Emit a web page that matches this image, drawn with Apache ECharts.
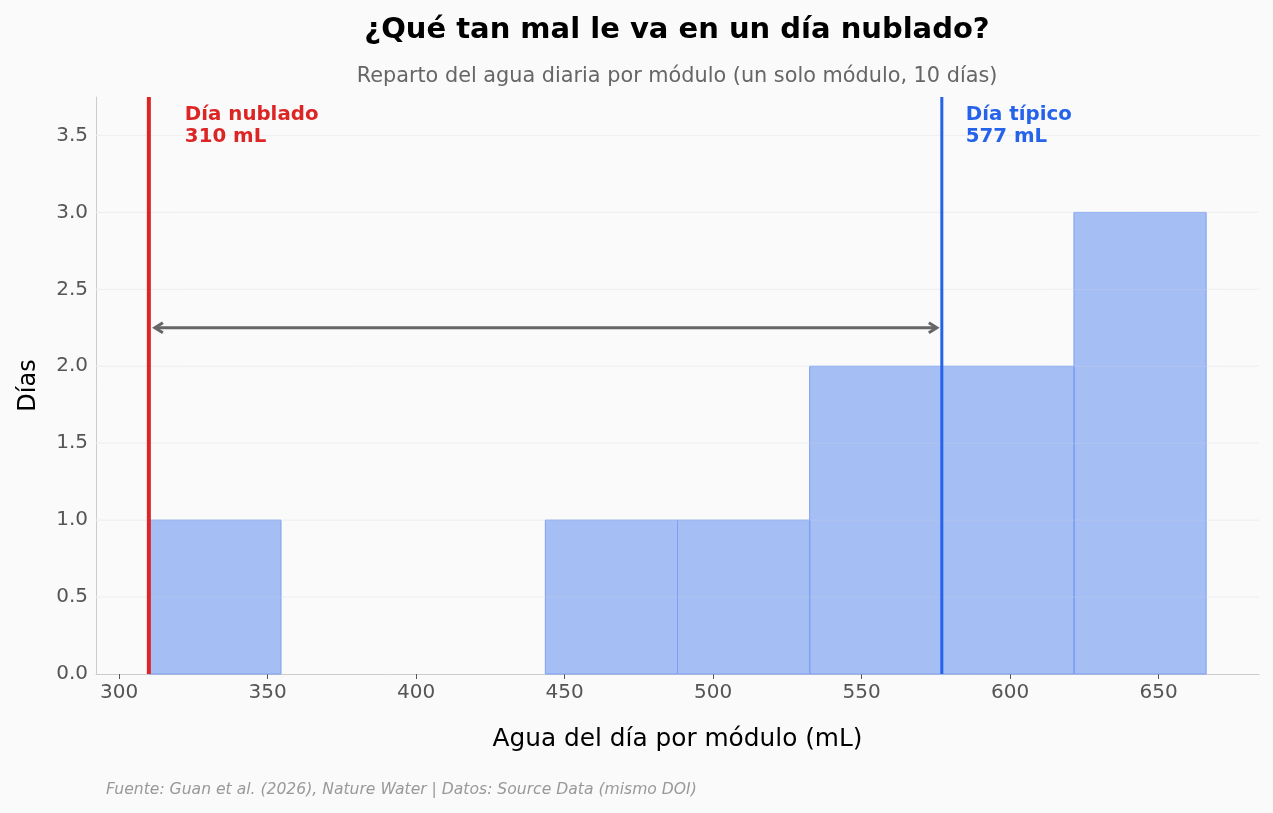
<!DOCTYPE html>
<html>
<head>
<meta charset="utf-8">
<script src="https://cdn.jsdelivr.net/npm/echarts@6/dist/echarts.min.js"></script>
<style>
html,body{margin:0;padding:0;background:#fafafa;}
#c{width:1273px;height:813px;}
</style>
</head>
<body>
<div id="c"></div>
<script>
// ---- data ----
const binEdges = [310, 354.5, 399, 443.5, 488, 532.5, 577, 621.5, 666];
const binCounts = [1, 0, 0, 1, 1, 2, 2, 3];
const cloudyDay = 310;
const typicalDay = 577;
const xTicks = [300, 350, 400, 450, 500, 550, 600, 650];
const yTicks = [0, 0.5, 1, 1.5, 2, 2.5, 3, 3.5];
const arrowY = 2.25;
const titleText = '¿Qué tan mal le va en un día nublado?';
const subtitleText = 'Reparto del agua diaria por módulo (un solo módulo, 10 días)';
const sourceText = 'Fuente: Guan et al. (2026), Nature Water | Datos: Source Data (mismo DOI)';

const FONT = '"DejaVu Sans", sans-serif';
const blue = '#2563eb';
const red = '#dc2626';

const bins = binCounts.map((c, i) => [binEdges[i], binEdges[i + 1], c]);

const chart = echarts.init(document.getElementById('c'), null, {renderer: 'canvas'});

chart.setOption({
  backgroundColor: '#fafafa',
  animation: false,
  title: [
    {text: titleText, left: 672, textAlign: 'center', top: 11,
     textStyle: {fontFamily: FONT, fontSize: 29, fontWeight: 'bold', color: '#000'}},
    {text: subtitleText, left: 672, textAlign: 'center', top: 61,
     textStyle: {fontFamily: FONT, fontSize: 20.8, fontWeight: 'normal', color: '#666'}},
    {text: sourceText, left: 101, top: 777,
     textStyle: {fontFamily: FONT, fontSize: 15.6, fontStyle: 'italic', fontWeight: 'normal', color: '#999'}}
  ],
  grid: {left: 96, right: 14, top: 97, bottom: 139},
  xAxis: {
    type: 'value', min: 292.2, max: 683.8,
    name: 'Agua del día por módulo (mL)', nameLocation: 'middle', nameGap: 53,
    nameTextStyle: {fontFamily: FONT, fontSize: 24.8, color: '#000'},
    axisLine: {show: true, lineStyle: {color: '#cccccc', width: 1}},
    axisTick: {show: true, customValues: xTicks, length: 5, lineStyle: {color: '#555'}},
    axisLabel: {customValues: xTicks, fontFamily: FONT, fontSize: 20, color: '#555', margin: 9},
    splitLine: {show: false}
  },
  yAxis: {
    type: 'value', min: 0, max: 3.75,
    name: 'Días', nameLocation: 'middle', nameGap: 55, nameRotate: 90,
    nameTextStyle: {fontFamily: FONT, fontSize: 24, color: '#000'},
    axisLine: {show: true, lineStyle: {color: '#cccccc', width: 1}},
    axisTick: {show: false, customValues: yTicks},
    axisLabel: {customValues: yTicks, fontFamily: FONT, fontSize: 20, color: '#555', margin: 8,
      padding: [4, 0, 0, 0], formatter: v => v.toFixed(1)},
    splitLine: {show: false}
  },
  series: [
    {
      type: 'custom', z: 1, silent: true,
      data: yTicks.filter(v => v > 0).map(v => [v]),
      renderItem: function (params, api) {
        const y = api.coord([0, api.value(0)])[1];
        const cs = params.coordSys;
        return {type: 'line', shape: {x1: cs.x, y1: y, x2: cs.x + cs.width, y2: y},
          style: {stroke: '#ebebeb', lineWidth: 1}};
      }
    },
    {
      type: 'custom', z: 2, silent: true,
      data: bins,
      renderItem: function (params, api) {
        const c = api.value(2);
        if (!c) return null;
        const p0 = api.coord([api.value(0), 0]);
        const p1 = api.coord([api.value(1), c]);
        return {type: 'rect',
          shape: {x: p0[0], y: p1[1], width: p1[0] - p0[0], height: p0[1] - p1[1]},
          style: {fill: 'rgba(37,99,235,0.4)', stroke: '#7c9ff1', lineWidth: 1}};
      }
    },
    {
      type: 'custom', z: 3, silent: true,
      data: yTicks.filter(v => v > 0).map(v => [v]),
      renderItem: function (params, api) {
        const y = api.coord([0, api.value(0)])[1];
        const cs = params.coordSys;
        return {type: 'line', shape: {x1: cs.x, y1: y, x2: cs.x + cs.width, y2: y},
          style: {stroke: 'rgba(255,255,255,0.22)', lineWidth: 1}};
      }
    },
    {
      type: 'custom', z: 4, silent: true,
      data: [[cloudyDay, 4, red, 'Día nublado', 36], [typicalDay, 3, blue, 'Día típico', 24]],
      renderItem: function (params, api) {
        const x = api.coord([api.value(0), 0])[0];
        const cs = params.coordSys;
        const col = api.value(2);
        const lbl = api.value(3);
        const off = api.value(4);
        return {type: 'group', children: [
          {type: 'line', shape: {x1: x, y1: cs.y, x2: x, y2: cs.y + cs.height},
           style: {stroke: col, lineWidth: api.value(1)}},
          {type: 'text', x: x + off, y: cs.y + 7,
           style: {text: lbl + '\n' + Math.round(api.value(0)) + ' mL', fill: col,
             font: 'bold 19.8px ' + FONT, lineHeight: 22, textAlign: 'left', textVerticalAlign: 'top'}}
        ]};
      }
    },
    {
      type: 'custom', z: 5, silent: true,
      data: [[cloudyDay, typicalDay, arrowY]],
      renderItem: function (params, api) {
        const a = api.coord([api.value(0), api.value(2)]);
        const b = api.coord([api.value(1), api.value(2)]);
        const x1 = a[0] + 5, x2 = b[0] - 4, y = a[1];
        const h = 5, w = 9;
        const st = {stroke: '#666', lineWidth: 3, fill: null, lineJoin: 'miter', lineCap: 'butt'};
        return {type: 'group', children: [
          {type: 'line', shape: {x1: x1 + 1, y1: y, x2: x2 - 1, y2: y}, style: st},
          {type: 'polyline', shape: {points: [[x1 + w, y - h], [x1 + 1, y], [x1 + w, y + h]]}, style: st},
          {type: 'polyline', shape: {points: [[x2 - w, y - h], [x2 - 1, y], [x2 - w, y + h]]}, style: st}
        ]};
      }
    }
  ]
});
</script>
</body>
</html>
